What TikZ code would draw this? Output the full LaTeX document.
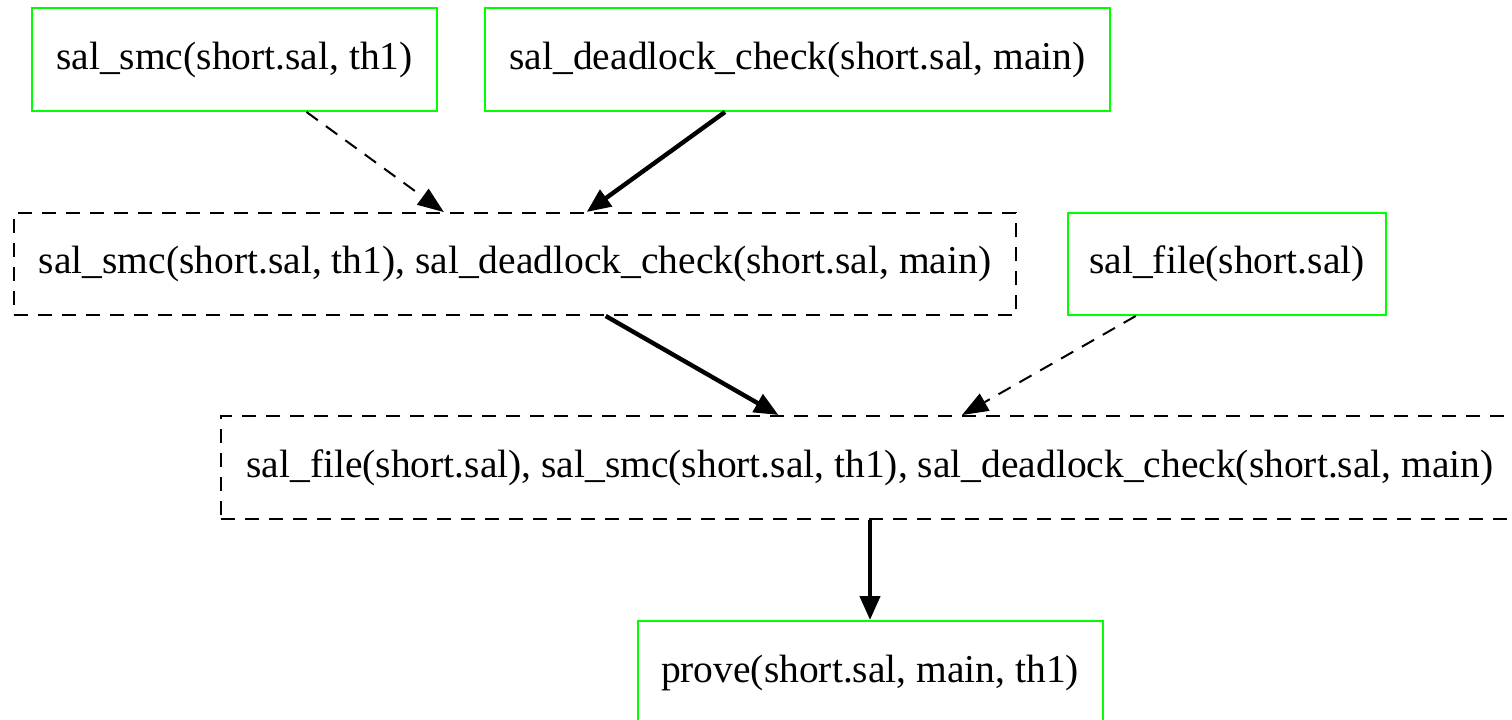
\documentclass[tikz,border=0pt]{standalone}
\usepackage{fontspec}
\setmainfont{Liberation Serif}
\usetikzlibrary{arrows.meta}
\definecolor{gvgreen}{RGB}{0,255,0}
\tikzset{
  lbl/.style={font=\fontsize{19.75pt}{24pt}\selectfont, inner sep=0pt, align=center},
  greenbox/.style={lbl, draw=gvgreen, line width=1pt, rectangle},
  dashbox/.style={lbl, draw=black, line width=1pt, rectangle, dash pattern=on 7pt off 5pt},
  thinedge/.style={draw=black, line width=1pt, dash pattern=on 7pt off 5pt, -{Triangle[length=13pt,width=10pt,line width=0pt,sep=0pt]}},
  thickedge/.style={draw=black, line width=2.2pt, -{Triangle[length=12pt,width=10pt,sep=0pt]}}
}
\begin{document}
\begin{tikzpicture}[x=0.5pt,y=-0.5pt]
\clip (0,0) rectangle (1512,719);
\fill[white] (0,0) rectangle (1512,719);
\node[greenbox, minimum width=202.5pt, minimum height=51.5pt] (A) at (234.5,59.5) {sal\_smc(short.sal, th1)};
\node[greenbox, minimum width=312.5pt, minimum height=51.5pt] (B) at (797.5,59.5) {sal\_deadlock\_check(short.sal, main)};
\node[dashbox, minimum width=501pt, minimum height=51pt] (C) at (515,264) {sal\_smc(short.sal, th1), sal\_deadlock\_check(short.sal, main)};
\node[greenbox, minimum width=159pt, minimum height=51pt] (D) at (1227,264) {sal\_file(short.sal)};
\node[dashbox, minimum width=649pt, minimum height=51.5pt] (E) at (870,467.5) {sal\_file(short.sal), sal\_smc(short.sal, th1), sal\_deadlock\_check(short.sal, main)};
\node[greenbox, minimum width=232.5pt, minimum height=51.5pt] (F) at (870,672.5) {prove(short.sal, main, th1)};
\draw[thinedge] (A) -- (C);
\draw[thickedge] (B) -- (C);
\draw[thickedge] (C) -- (E);
\draw[thinedge] (D) -- (E);
\draw[thickedge] (E) -- (F);
\end{tikzpicture}
\end{document}
